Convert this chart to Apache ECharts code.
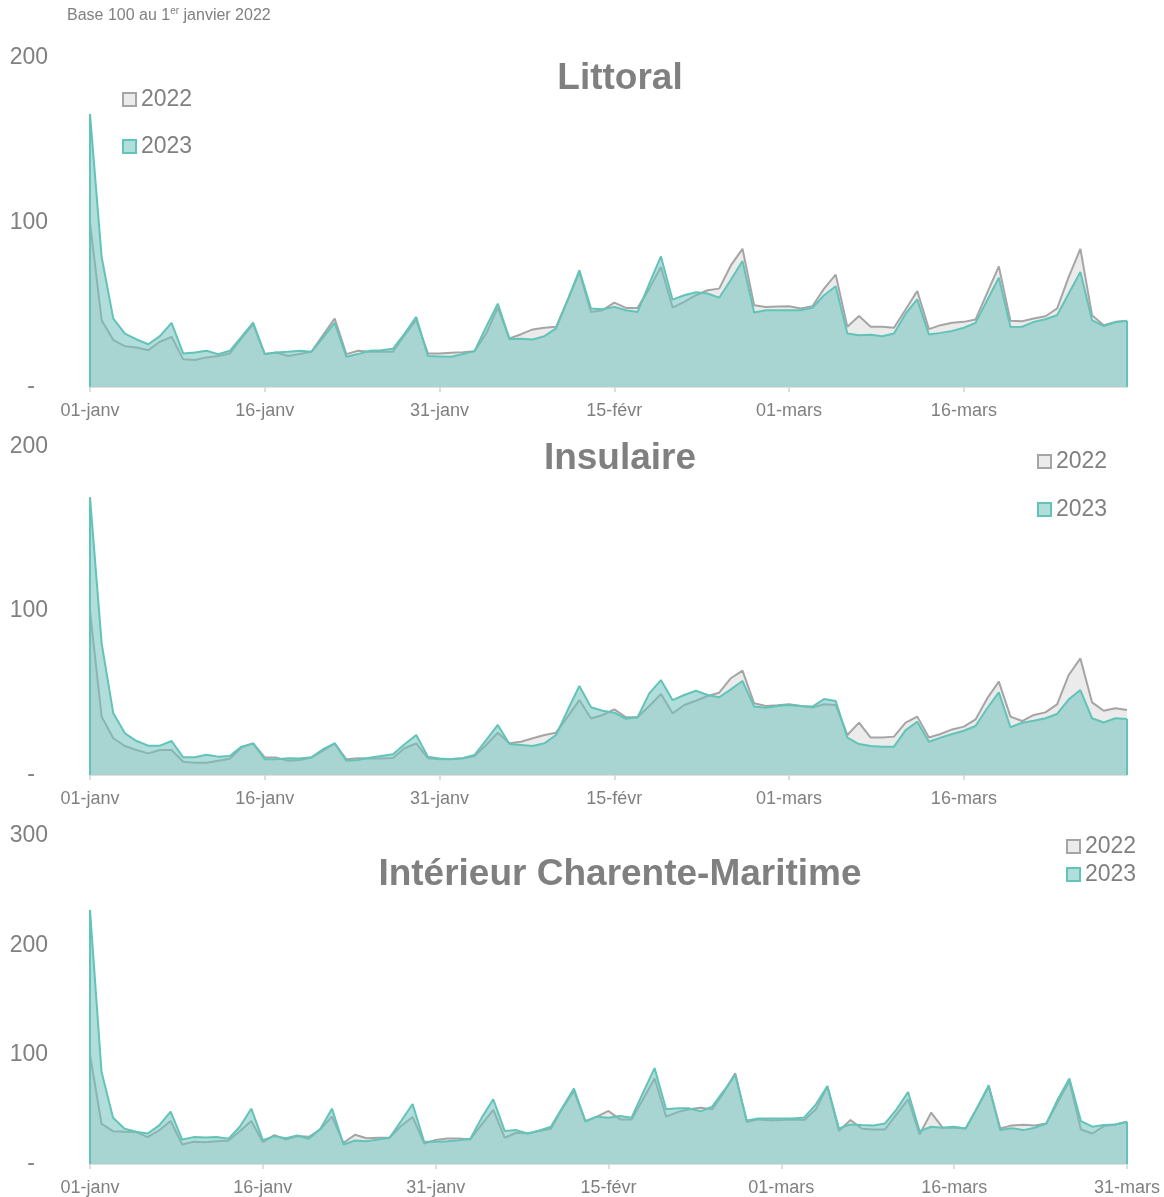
<!DOCTYPE html>
<html><head><meta charset="utf-8">
<script src="https://cdn.jsdelivr.net/npm/echarts@6/dist/echarts.min.js"></script>
<style>html,body{margin:0;padding:0;background:#fff}#c{width:1164px;height:1197px}</style>
</head><body><div id="c"></div>
<script>
// ---- categories (days, leap-year calendar as in the source axis) ----
const monthNames = ['janv', 'févr', 'mars'];
const monthDays = [31, 29, 31];
const categories = [];
for (let m = 0; m < monthNames.length; m++) {
  for (let d = 1; d <= monthDays[m]; d++) categories.push(String(d).padStart(2, '0') + '-' + monthNames[m]);
}
const cats90 = categories.slice(0, 90);
const cats91 = categories.slice(0, 91);

// ---- Littoral ----
const lit2022 = [100,40.6,28.5,24.8,24,22.4,27.5,30.5,16.8,16.4,
  18,18.8,20.4,29.5,38.2,20,21,18.8,20,21.4,
  31.5,41.6,20,22,21.4,21.4,21.4,31.5,40.6,20.4,
  20.4,20.8,21.2,21.8,32.5,48.3,29.5,32.1,35,36,
  36.6,53,69.9,45.6,46.7,51.3,48.1,48.1,59.8,72.9,
  48.3,51.7,55.8,58.8,59.8,73.9,84,49.7,48.7,48.9,
  49.1,47.7,49.1,59.8,68.3,36.6,43.2,36.6,36.6,36,
  47.1,58.4,35.2,37.6,39,39.6,41,57.2,73.3,40.2,
  40,41.6,43,47.7,66.9,84,43.6,37.6,39.6,40.2];
const lit2023 = [166,79,41.6,32.5,28.9,26,30.9,39,20.4,21,
  22,20,22,30.5,39.2,20,21,21.4,22,21.4,
  30,39,18.4,20,22,22.4,23.2,32.5,42.6,18.8,
  18.6,18.4,20,21.8,36.5,50.7,29.1,29.3,28.9,30.9,
  35.6,53,70.9,47.7,47.3,48.7,46.7,45.6,62.8,79.4,
  53.1,55.8,57.6,56.8,54.3,65.2,76.6,45.3,46.7,46.7,
  46.7,46.7,48.1,55.8,61.2,32.5,31.5,31.7,30.9,32.5,
  44.6,53.3,31.9,32.9,34.1,36,39,52.7,66.5,36.4,
  36.6,39.6,41.2,43.6,56.8,69.9,40.6,37,39.4,40.2];

// ---- Insulaire ----
const ins2022 = [100,35.6,22.4,17.7,15.2,13.2,15.2,15.2,8.1,7.5,
  7.5,8.7,9.9,16.7,19.3,10.8,10.6,8.7,9.1,10.6,
  14.8,19.3,9.6,10.2,10,10,10.4,16.3,19.3,10.2,
  9.6,9.8,10.2,11.6,18.3,25.8,19.3,20.3,22.4,24.4,
  25.8,35.6,45.7,34.5,36.6,40,35.2,35.2,42.1,49.4,
  37.6,42.7,45.3,48.2,50.2,59,63.6,43.7,42.1,42.5,
  43.1,42.1,41.1,43.1,42.7,24.4,31.9,22.8,22.9,23.4,
  31.9,35.6,22.9,25,27.8,29.5,33.9,46.7,56.9,35.6,
  32.9,36.6,38.2,43.1,61,71.1,44.3,39.2,40.7,39.6];
const ins2023 = [169.3,80.3,37.6,25.4,20.7,17.9,17.9,20.7,10.8,10.8,
  12.4,11.2,11.6,17.3,19.3,9.6,9.6,10.2,10,10.8,
  15.7,19.3,8.7,9.1,10.6,11.6,12.6,18.7,24.4,11.2,
  10,9.6,10.2,12.2,21.3,30.5,18.9,18.3,17.7,19.3,
  24.4,39.6,54.3,41.3,39.2,38,34.3,35.2,49.8,57.9,
  45.7,48.8,51.4,48.8,47.4,52.2,57.3,41.7,41,42.1,
  42.7,42.1,41.7,46.3,45.1,22.8,18.9,17.7,17.3,17.3,
  27.4,32.5,20.3,22.8,25,27,29.9,40.7,50.4,29.1,
  31.9,33.1,34.6,37.2,46.1,51.8,34.6,32,34.6,34.1];

// ---- Intérieur Charente-Maritime ----
const int2022 = [100,36.8,30,29.5,29.2,24.6,30.7,39.3,17.8,20.3,
  20,20.9,21.2,29.9,39.3,20,26.4,22.4,25.5,24.9,
  31.6,43.3,19.4,26.7,23.6,24,24.3,34.7,43,18.8,
  22,23.3,23.3,22.4,36.2,49.4,24,28.6,27.9,30.1,
  32.2,50.9,66.8,39.3,43.3,48.5,40.8,40.8,59.2,78.2,
  43.3,47.5,50,51.5,50,65.3,83.1,38.3,40.8,39.9,
  40.3,40.8,40.2,50,70.8,30.1,40.2,32.2,31.6,31.6,
  45.4,59.2,27,47,33.2,33.2,32.5,51.5,70.8,32.5,
  35.3,35.9,35.3,37.1,56.7,76,31.6,27.9,34.7,36.2,
  38.4];
const int2023 = [232.3,84.3,42.3,32.2,29.5,27.9,35.3,47.9,22.4,24.6,
  24.3,24.6,23,34.1,50.6,21.8,25.5,23.6,26.1,23,
  32.2,50.6,17.8,21.5,20.9,22.4,24,39.3,54.9,20.3,
  20.3,20.9,21.8,23,42.4,59.2,30.1,31,27.9,30.7,
  34.1,51.6,69,38.7,43.3,42.4,43.8,42.4,65.3,87.7,
  50,50.9,50.9,48.2,52.5,66.8,81.3,39.9,41.7,41.7,
  41.7,41.7,42.6,54.6,71.4,32.5,36.2,35.6,35.3,37.1,
  50,65.9,30.1,34.1,33.2,34.1,32.5,51.5,72,31,
  32.8,31,33.2,37.1,59.2,78.2,39.3,34.1,35.6,36.2,
  38.7];

const panelTitles = ['Littoral', 'Insulaire', 'Intérieur Charente-Maritime'];
const yMax = [200, 200, 300];
const seriesNames = ['2022', '2023'];

// ---- styling ----
const FONT = 'Liberation Sans, Arial, Helvetica, sans-serif';
const TXT = '#808080';
const GREY_LINE = '#a5a5a5';
const GREY_AREA = '#ebebeb';
const TEAL_LINE = '#62c3b8';
const TEAL_AREA = 'rgba(113,195,188,0.55)';

const panels = [
  { cats: cats90, d22: lit2022, d23: lit2023, top: 58, height: 329, titleTop: 60, legend: { left: 122, top: 88, gap: 24 } },
  { cats: cats90, d22: ins2022, d23: ins2023, top: 447, height: 328, titleTop: 440, legend: { left: 1037, top: 450, gap: 25 } },
  { cats: cats91, d22: int2022, d23: int2023, top: 836, height: 328.5, titleTop: 856, legend: { left: 1066, top: 835, gap: 5 } }
];

const grids = [], xAxes = [], yAxes = [], series = [], legends = [], titles = [];

titles.push({
  left: 67, top: 6, padding: 0,
  text: '{a|Base 100 au 1}{s|er}{a| janvier 2022}',
  textStyle: {
    fontWeight: 'normal',
    rich: {
      a: { fontFamily: FONT, fontSize: 16, fontWeight: 'normal', color: TXT, lineHeight: 18, verticalAlign: 'bottom' },
      s: { fontFamily: FONT, fontSize: 10, fontWeight: 'normal', color: TXT, lineHeight: 18, verticalAlign: 'top' }
    }
  }
});

panels.forEach((p, k) => {
  grids.push({ left: 90, right: 37, top: p.top, height: p.height, containLabel: false });
  xAxes.push({
    type: 'category', gridIndex: k, data: p.cats, boundaryGap: false,
    axisLine: { show: true, lineStyle: { color: '#d4d4d4', width: 1.5 } },
    axisTick: { show: true, interval: 14, length: 5, lineStyle: { color: '#d4d4d4', width: 1.5 } },
    axisLabel: { interval: 14, fontFamily: FONT, fontSize: 18, color: TXT, margin: 15 },
    splitLine: { show: false }
  });
  yAxes.push({
    type: 'value', gridIndex: k, min: 0, max: yMax[k], interval: 100,
    axisLine: { show: false }, axisTick: { show: false }, splitLine: { show: false },
    axisLabel: {
      fontFamily: FONT, fontSize: 23, color: TXT, margin: 42,
      formatter: v => (v === 0 ? '{d|-}' : String(v)),
      rich: { d: { fontFamily: FONT, fontSize: 23, color: TXT, padding: [0, 13, 0, 0] } }
    }
  });
  const last = p.cats.length - 1;
  series.push({
    name: seriesNames[0], type: 'line', xAxisIndex: k, yAxisIndex: k, data: p.d22,
    symbol: 'none', smooth: false,
    lineStyle: { color: GREY_LINE, width: 2 },
    itemStyle: { color: GREY_AREA, borderColor: GREY_LINE },
    areaStyle: { color: GREY_AREA, opacity: 1 }, z: 2
  });
  series.push({
    name: seriesNames[1], type: 'line', xAxisIndex: k, yAxisIndex: k, data: p.d23,
    symbol: 'none', smooth: false,
    lineStyle: { color: TEAL_LINE, width: 2 },
    itemStyle: { color: TEAL_AREA, borderColor: TEAL_LINE },
    areaStyle: { color: TEAL_AREA, opacity: 1 }, z: 3,
    markLine: {
      silent: true, symbol: 'none', label: { show: false },
      lineStyle: { color: TEAL_LINE, width: 2, type: 'solid' },
      data: [
        [{ coord: [p.cats[0], 0] }, { coord: [p.cats[0], p.d23[0]] }],
        [{ coord: [p.cats[last], 0] }, { coord: [p.cats[last], p.d23[last]] }]
      ]
    }
  });
  legends.push({
    orient: 'vertical', left: p.legend.left, top: p.legend.top, itemGap: p.legend.gap,
    padding: 0,
    icon: 'rect', itemWidth: 13, itemHeight: 13,
    textStyle: { fontFamily: FONT, fontSize: 23, color: TXT },
    selectedMode: false,
    data: [
      { name: '2022', itemStyle: { color: GREY_AREA, borderColor: GREY_LINE, borderWidth: 2 } },
      { name: '2023', itemStyle: { color: TEAL_AREA, borderColor: TEAL_LINE, borderWidth: 2 } }
    ]
  });
  titles.push({
    text: panelTitles[k], left: 620, top: p.titleTop, textAlign: 'center', padding: 0,
    textStyle: { fontFamily: FONT, fontSize: 37, fontWeight: 'bold', color: TXT }
  });
});

const chart = echarts.init(document.getElementById('c'), null, { renderer: 'canvas' });
chart.setOption({
  animation: false,
  backgroundColor: '#ffffff',
  title: titles,
  grid: grids, xAxis: xAxes, yAxis: yAxes, series: series, legend: legends
});
</script></body></html>
